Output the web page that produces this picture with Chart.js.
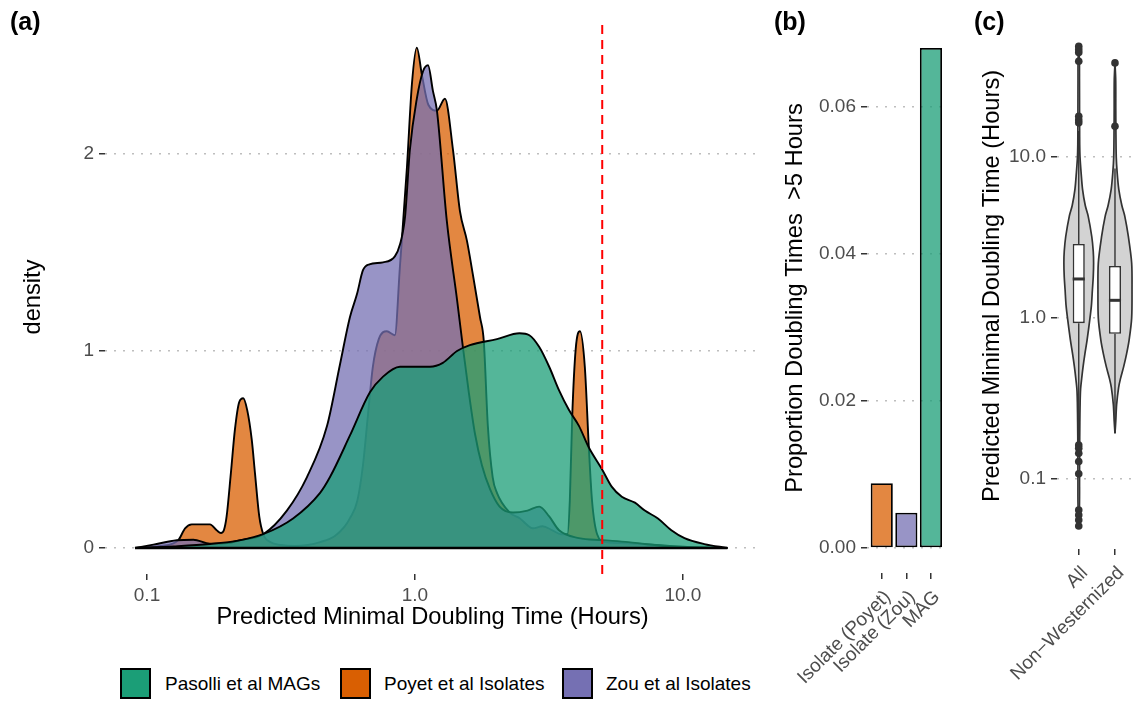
<!DOCTYPE html>
<html>
<head>
<meta charset="utf-8">
<script src="https://cdn.jsdelivr.net/npm/chart.js@4.4.1/dist/chart.umd.min.js"></script>
<style>
html,body{margin:0;padding:0;background:#fff;}
#wrap{position:relative;width:1140px;height:702px;overflow:hidden;font-family:"Liberation Sans",Arial,Helvetica,sans-serif;color:#000;}
canvas{position:absolute;top:0;}
.panel{position:absolute;top:9px;font-weight:bold;font-size:25px;line-height:1;}
.key{position:absolute;top:668px;width:31px;height:31px;box-sizing:border-box;border:2px solid #000;}
.ltxt{position:absolute;top:668px;height:31px;line-height:31px;font-size:19px;white-space:nowrap;}
</style>
</head>
<body>
<div id="wrap">
  <canvas id="cA" width="770" height="640" style="left:0;width:770px;height:640px"></canvas>
  <canvas id="cB" width="185" height="702" style="left:770px;width:185px;height:702px"></canvas>
  <canvas id="cC" width="180" height="702" style="left:960px;width:180px;height:702px"></canvas>
  <div class="panel" style="left:10px">(a)</div>
  <div class="panel" style="left:774px">(b)</div>
  <div class="panel" style="left:974px">(c)</div>
  <div id="legend"></div>
</div>
<script>
// ---------------- DATA ----------------
// Panel (a): density curves (x = hours, y = density)
const groupNames = ['Pasolli et al MAGs', 'Poyet et al Isolates', 'Zou et al Isolates'];
const pasolliHours = [0.0902,0.1259,0.1718,0.2239,0.2710,0.3508,0.4426,0.4819,0.5715,0.6792,0.7603,0.8790,1.0,1.138,1.271,1.436,1.603,2.023,2.455,2.673,2.911,3.170,3.451,3.758,4.093,4.457,4.989,5.433,5.916,6.622,7.211,8.072,9.057,10.14,12.02,14.66];
const pasolliDensity = [0,0.008,0.02,0.04,0.07,0.15,0.28,0.36,0.57,0.79,0.87,0.92,0.92,0.92,0.94,1.0,1.03,1.06,1.09,1.08,1.02,0.92,0.80,0.70,0.62,0.51,0.40,0.31,0.26,0.23,0.19,0.15,0.09,0.05,0.02,0];
const poyetHours = [0.0902,0.1122,0.1309,0.1387,0.1469,0.1622,0.1718,0.1820,0.1888,0.1936,0.1982,0.2056,0.2128,0.2208,0.2286,0.2366,0.2460,0.2529,0.2624,0.2716,0.2884,0.3162,0.3548,0.3981,0.4426,0.5012,0.5470,0.5715,0.6095,0.6397,0.6683,0.6966,0.7328,0.7852,0.8414,0.8790,0.9333,0.9750,1.016,1.062,1.122,1.208,1.294,1.387,1.472,1.563,1.644,1.750,1.807,1.871,1.950,2.023,2.259,2.466,2.754,2.992,3.258,3.508,3.707,3.784,3.864,3.981,4.130,4.305,4.457,4.581,4.786,5.129,5.888,7.079,8.913,11.22,14.66];
const poyetDensity = [0,0.01,0.04,0.10,0.12,0.12,0.12,0.09,0.076,0.09,0.16,0.38,0.60,0.74,0.76,0.70,0.55,0.38,0.16,0.07,0.03,0.015,0.01,0.015,0.03,0.06,0.11,0.15,0.24,0.42,0.68,0.92,1.06,1.10,1.08,1.43,1.93,2.36,2.54,2.40,2.25,2.22,2.28,2.02,1.71,1.56,1.39,1.17,1.05,0.62,0.36,0.28,0.18,0.15,0.10,0.11,0.09,0.07,0.07,0.24,0.67,1.01,1.10,0.92,0.51,0.24,0.07,0.03,0.025,0.02,0.01,0.003,0];
const zouHours = [0.0902,0.1057,0.1291,0.1489,0.1718,0.1995,0.2239,0.2716,0.3327,0.3954,0.4699,0.5248,0.5715,0.6081,0.6397,0.6761,0.7603,0.8414,0.8790,0.9183,0.9572,1.016,1.072,1.119,1.167,1.208,1.315,1.436,1.510,1.585,1.675,1.778,1.905,2.070,2.323,2.630,2.911,3.170,3.451,4.093,4.989,6.266,7.211,8.531,10.0,14.66];
const zouDensity = [0,0.017,0.039,0.042,0.022,0.025,0.04,0.07,0.19,0.36,0.62,0.93,1.17,1.29,1.41,1.44,1.45,1.48,1.54,1.68,2.02,2.28,2.42,2.45,2.32,2.22,1.66,1.26,1.02,0.80,0.58,0.42,0.30,0.21,0.18,0.19,0.21,0.16,0.09,0.05,0.04,0.03,0.02,0.01,0.005,0];
const densityXTicks = [0.1, 1, 10];
const densityXTickLabels = ['0.1', '1.0', '10.0'];
const densityYTicks = [0, 1, 2];
const thresholdHours = 5;

// Panel (b): proportion of doubling times > 5 h
const barCategories = ['Isolate (Poyet)', 'Isolate (Zou)', 'MAG'];
const barValues = [0.0088, 0.0048, 0.068];
const barYTicks = [0, 0.02, 0.04, 0.06];

// Panel (c): violin + boxplot (hours, log scale)
const violinCategories = ['All', 'Non\u2212Westernized'];
const allViolinHours = [0.0513,0.07,0.1,0.15,0.224,0.3,0.36,0.42,0.5,0.6,0.73,1.0,1.2,1.5,1.8,2.2,2.6,3.2,4.3,5.0,6.3,8.0,10,12,15,20,30,40,48.6];
const allViolinHalfWidth = [0,0.02,0.022,0.024,0.03,0.038,0.05,0.08,0.12,0.17,0.23,0.31,0.35,0.377,0.40,0.41,0.40,0.36,0.26,0.18,0.105,0.065,0.035,0.026,0.024,0.022,0.02,0.018,0];
const nwViolinHours = [0.193,0.23,0.29,0.37,0.42,0.5,0.6,0.73,1.0,1.5,2.2,3.2,4.3,5.0,6.3,8.0,10,15,20,30,38.4];
const nwViolinHalfWidth = [0,0.022,0.045,0.10,0.15,0.24,0.32,0.39,0.46,0.47,0.46,0.37,0.27,0.19,0.105,0.06,0.035,0.025,0.022,0.02,0];
// box stats: [lowerWhisker, q1, median, q3, upperWhisker]
const allBox = [0.17, 0.93, 1.75, 2.89, 14.5];
const nwBox = [0.193, 0.80, 1.29, 2.11, 8.5];
const allOutliers = [48.6,46.4,44.5,39.3,17.9,17.0,16.3,0.163,0.156,0.145,0.129,0.108,0.0645,0.060,0.0558,0.0513];
const nwOutliers = [38.4, 15.5];
const violinYTicks = [0.1, 1, 10];
const violinYTickLabels = ['0.1', '1.0', '10.0'];

// ---------------- STYLE ----------------
const FONT = '"Liberation Sans", Arial, Helvetica, sans-serif';
const groupColors = ['#1B9E77', '#D95F02', '#7570B3'];
const groupFills = ['rgba(27,158,119,0.75)', 'rgba(217,95,2,0.75)', 'rgba(117,112,179,0.75)'];
const TICK = '#4D4D4D';
const DARK = '#333333';
const tickFont = {family: FONT, size: 19};
const titleFont = {family: FONT, size: 23.7};
const gridY = {color: '#BEBEBE', lineWidth: 1.5, drawTicks: true, tickLength: 6, tickColor: DARK, tickWidth: 1.5, tickBorderDash: []};
const gridX = {drawOnChartArea: false, drawTicks: true, tickLength: 6, color: DARK, tickColor: DARK, tickWidth: 1.5, lineWidth: 1.5};
const dotted = {display: false, dash: [2, 7]};
const baseOpts = {responsive: false, animation: false, devicePixelRatio: 1,
  plugins: {legend: {display: false}, tooltip: {enabled: false}}};
const toPts = (xs, ys) => xs.map((x, i) => ({x: x, y: ys[i]}));

// legend (HTML)
const legendPos = [[120, 165], [340, 384], [562, 606]];
const legendEl = document.getElementById('legend');
groupNames.forEach((n, i) => {
  const k = document.createElement('div'); k.className = 'key';
  k.style.left = legendPos[i][0] + 'px'; k.style.background = groupColors[i];
  const t = document.createElement('div'); t.className = 'ltxt';
  t.style.left = legendPos[i][1] + 'px'; t.textContent = n;
  legendEl.appendChild(k); legendEl.appendChild(t);
});

// ---------------- PANEL (a) ----------------
const aYmin = -0.132, aYmax = 2.68;
const densityDs = (hours, dens, gi) => ({
  label: groupNames[gi], data: toPts(hours, dens), borderColor: '#000', borderWidth: 1.9,
  backgroundColor: groupFills[gi], fill: 'origin', pointRadius: 0, cubicInterpolationMode: 'monotone'
});
new Chart(document.getElementById('cA'), {
  type: 'line',
  data: {datasets: [
    {label: 'threshold', data: [{x: thresholdHours, y: aYmin}, {x: thresholdHours, y: aYmax}],
     borderColor: '#FF0000', borderWidth: 2, borderDash: [9, 6], pointRadius: 0, fill: false},
    {label: 'baseline', data: [{x: pasolliHours[0], y: 0}, {x: pasolliHours[pasolliHours.length - 1], y: 0}],
     borderColor: '#000', borderWidth: 2.6, pointRadius: 0, fill: false},
    densityDs(pasolliHours, pasolliDensity, 0),
    densityDs(zouHours, zouDensity, 2),
    densityDs(poyetHours, poyetDensity, 1)
  ]},
  options: Object.assign({}, baseOpts, {
    layout: {padding: {left: 0, right: 10, top: 20, bottom: 0}},
    scales: {
      x: {type: 'logarithmic', min: 0.0697, max: 19.4,
        afterBuildTicks: s => { s.ticks = densityXTicks.map(v => ({value: v})); },
        afterFit: s => { s.height = 66; },
        ticks: {autoSkip: false, maxRotation: 0, minRotation: 0, padding: 4, color: TICK, font: tickFont,
          callback: (v, i) => densityXTickLabels[i]},
        grid: gridX, border: {display: false},
        title: {display: true, text: 'Predicted Minimal Doubling Time (Hours)', color: '#000', font: titleFont, padding: {top: 0, bottom: 8}}
      },
      y: {type: 'linear', min: aYmin, max: aYmax,
        afterBuildTicks: s => { s.ticks = densityYTicks.map(v => ({value: v})); },
        afterFit: s => { s.width = 105; },
        ticks: {padding: 5, color: TICK, font: tickFont, callback: v => String(v)},
        grid: gridY, border: dotted,
        title: {display: true, text: 'density', color: '#000', font: titleFont, padding: {top: 19, bottom: 0}}
      }
    }
  })
});

// ---------------- PANEL (b) ----------------
const barFills = [groupFills[1], groupFills[2], groupFills[0]];
new Chart(document.getElementById('cB'), {
  type: 'bar',
  data: {datasets: [{
    data: barCategories.map((c, i) => ({x: i + 1, y: barValues[i]})),
    backgroundColor: barFills, borderColor: '#000', borderWidth: 1.8, borderSkipped: false,
    categoryPercentage: 1, barPercentage: 0.9
  }]},
  options: Object.assign({}, baseOpts, {
    layout: {padding: {left: 0, right: 5, top: 23, bottom: 0}},
    scales: {
      x: {type: 'linear', min: 0.4, max: 3.6, offset: false,
        afterBuildTicks: s => { s.ticks = barCategories.map((c, i) => ({value: i + 1})); },
        afterFit: s => { s.height = 129; },
        ticks: {autoSkip: false, minRotation: 45, maxRotation: 45, padding: 7, labelOffset: 6, color: TICK, font: tickFont,
          callback: (v, i) => barCategories[i]},
        grid: Object.assign({}, gridX, {offset: false}), border: {display: false}
      },
      y: {type: 'linear', min: -0.0034, max: 0.0714,
        afterBuildTicks: s => { s.ticks = barYTicks.map(v => ({value: v})); },
        afterFit: s => { s.width = 97; },
        ticks: {padding: 5, color: TICK, font: tickFont, callback: v => v.toFixed(2)},
        grid: gridY, border: dotted,
        title: {display: true, text: 'Proportion Doubling Times  >5 Hours', color: '#000', font: titleFont, padding: {top: 11, bottom: 0}}
      }
    }
  })
});

// ---------------- PANEL (c) ----------------
const boxHalf = 0.167;
const halfViolin = (center, hours, widths, sign) => ({
  data: hours.map((h, i) => ({x: center + sign * widths[i], y: h})),
  indexAxis: 'y', fill: {value: center}, backgroundColor: '#D3D3D3',
  borderColor: DARK, borderWidth: 1.7, pointRadius: 0, tension: 0.3
});
const segDs = (pts, w) => ({data: pts, borderColor: DARK, borderWidth: w, pointRadius: 0, fill: false});
const boxes = [allBox, nwBox];
new Chart(document.getElementById('cC'), {
  type: 'line',
  data: {datasets: [
    {data: allOutliers.map(v => ({x: 1, y: v})).concat(nwOutliers.map(v => ({x: 2, y: v}))),
     showLine: false, pointRadius: 3.8, pointBackgroundColor: DARK, pointBorderWidth: 0, fill: false},
    segDs([{x: 1 - boxHalf, y: allBox[2]}, {x: 1 + boxHalf, y: allBox[2]}], 3),
    segDs([{x: 2 - boxHalf, y: nwBox[2]}, {x: 2 + boxHalf, y: nwBox[2]}], 3),
    {type: 'bar', data: boxes.map((b, i) => ({x: i + 1, y: [b[1], b[3]]})),
     backgroundColor: '#FFFFFF', borderColor: DARK, borderWidth: 1.6, borderSkipped: false,
     categoryPercentage: 1, barPercentage: boxHalf * 2},
    segDs([{x: 1, y: allBox[3]}, {x: 1, y: allBox[4]}], 1.4),
    segDs([{x: 1, y: allBox[1]}, {x: 1, y: allBox[0]}], 1.4),
    segDs([{x: 2, y: nwBox[3]}, {x: 2, y: nwBox[4]}], 1.4),
    segDs([{x: 2, y: nwBox[1]}, {x: 2, y: nwBox[0]}], 1.4),
    halfViolin(1, allViolinHours, allViolinHalfWidth, -1),
    halfViolin(1, allViolinHours, allViolinHalfWidth, 1),
    halfViolin(2, nwViolinHours, nwViolinHalfWidth, -1),
    halfViolin(2, nwViolinHours, nwViolinHalfWidth, 1)
  ]},
  options: Object.assign({}, baseOpts, {
    layout: {padding: {left: 0, right: 0, top: 23, bottom: 0}},
    scales: {
      x: {type: 'linear', min: 0.4, max: 2.58, offset: false,
        afterBuildTicks: s => { s.ticks = violinCategories.map((c, i) => ({value: i + 1})); },
        afterFit: s => { s.height = 153; },
        ticks: {autoSkip: false, minRotation: 45, maxRotation: 45, padding: 7, labelOffset: 6, color: TICK, font: tickFont,
          callback: (v, i) => violinCategories[i]},
        grid: Object.assign({}, gridX, {offset: false}), border: {display: false}
      },
      y: {type: 'logarithmic', min: 0.0369, max: 67.9,
        afterBuildTicks: s => { s.ticks = violinYTicks.map(v => ({value: v})); },
        afterFit: s => { s.width = 97; },
        ticks: {padding: 5, color: TICK, font: tickFont, callback: (v, i) => violinYTickLabels[i]},
        grid: gridY, border: dotted,
        title: {display: true, text: 'Predicted Minimal Doubling Time (Hours)', color: '#000', font: titleFont, padding: {top: 18, bottom: 0}}
      }
    }
  })
});
</script>
</body>
</html>
